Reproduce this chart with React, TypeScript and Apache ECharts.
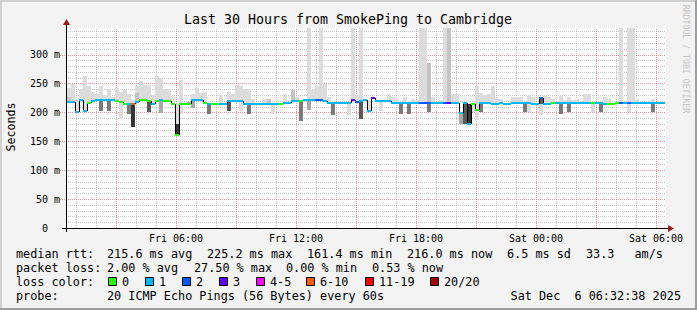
import React, { useEffect, useRef } from 'react';
import * as echarts from 'echarts';

const TITLE = 'Last 30 Hours from SmokePing to Cambridge';
const Y_NAME = 'Seconds';
const SIDE_TEXT = 'RRDTOOL / TOBI OETIKER';
const FONT = '"DejaVu Sans Mono", monospace';

// x axis: hours since Fri 00:00
const X_MIN = 0.5;
const X_MAX = 30.5;
const Y_MIN = 0;
const Y_MAX = 346;

const X_LABEL_HOURS = [6, 12, 18, 24, 30];
const X_LABELS = ['Fri 06:00', 'Fri 12:00', 'Fri 18:00', 'Sat 00:00', 'Sat 06:00'];
const X_MAJOR_HOURS = [3, 6, 9, 12, 15, 18, 21, 24, 27, 30];
const X_MINOR_HOURS = [1, 2, 4, 5, 7, 8, 10, 11, 13, 14, 16, 17, 19, 20, 22, 23, 25, 26, 28, 29];
const Y_MAJOR = [50, 100, 150, 200, 250, 300];
const Y_MINOR = [10, 20, 30, 40, 60, 70, 80, 90, 110, 120, 130, 140, 160, 170, 180, 190, 210, 220, 230, 240, 260, 270, 280, 290, 310, 320, 330, 340];

const LOSS_LABELS = ['0', '1', '2', '3', '4-5', '6-10', '11-19', '20/20'];
const LOSS_COLORS = ['#26ff00', '#00b8ff', '#0059ff', '#5e00ff', '#ff00ff', '#ff5e00', '#ff0000', '#a10000'];
const SMOKE_SHADES = ['#dcdcdc', '#c4c4c4', '#a8a8a8', '#7a7a7a', '#5a5a5a', '#353535'];

// [start hour, end hour, median ms, loss class]
const MEDIAN: number[][] = [
  [0.54, 0.94, 218.5, 1], [0.94, 1.14, 201, 1], [1.14, 1.34, 222, 1], [1.34, 1.54, 203, 1],
  [1.54, 1.74, 217, 0], [1.74, 1.94, 220, 1], [1.94, 2.94, 221.5, 1], [2.94, 3.14, 220.5, 0],
  [3.14, 3.34, 218.5, 0], [3.34, 3.54, 214.6, 0], [3.54, 3.74, 214.6, 1], [3.74, 3.94, 214.6, 5],
  [3.94, 4.14, 218, 1], [4.14, 4.54, 221.5, 0], [4.54, 4.74, 219, 0], [4.74, 4.94, 215, 1],
  [4.94, 5.14, 219.7, 0], [5.14, 5.34, 221.5, 1], [5.34, 5.74, 219.7, 0], [5.74, 5.94, 215, 0],
  [5.94, 6.14, 161.4, 0], [6.14, 6.74, 215, 0], [6.74, 7.34, 221, 1], [7.34, 7.54, 217, 0],
  [7.54, 7.74, 215, 1], [7.74, 8.14, 215, 0], [8.14, 8.54, 215, 1], [8.54, 9.34, 220.3, 1],
  [9.34, 11.14, 215, 1], [11.14, 11.34, 215, 0], [11.34, 11.74, 215.5, 1], [11.74, 12.14, 220.3, 1],
  [12.14, 12.34, 220.3, 0], [12.34, 12.94, 221, 1], [12.94, 13.34, 222, 2], [13.34, 13.54, 219.5, 1],
  [13.54, 13.74, 217, 1], [13.74, 14.54, 215.5, 1], [14.54, 14.74, 217, 1], [14.74, 14.94, 221.5, 3],
  [14.94, 15.14, 217.5, 2], [15.14, 15.34, 219, 1], [15.34, 15.54, 221, 1], [15.54, 15.74, 203, 1],
  [15.74, 15.94, 224.5, 3], [15.94, 16.74, 220.3, 1], [16.74, 16.94, 215.5, 1], [16.94, 17.54, 217, 1],
  [17.54, 18.14, 215.5, 1], [18.14, 18.74, 217, 2], [18.74, 19.34, 215.5, 1], [19.34, 19.54, 215.5, 2],
  [19.54, 19.74, 215.5, 3], [19.74, 20.14, 215.5, 1], [20.14, 20.34, 199.6, 1], [20.34, 20.54, 217, 1],
  [20.54, 20.74, 180, 1], [20.74, 20.94, 214, 0], [20.94, 21.14, 204, 0], [21.14, 21.74, 217, 1],
  [21.74, 22.14, 215, 1], [22.14, 22.34, 217, 1], [22.34, 22.74, 215, 1], [22.74, 23.74, 217, 1],
  [23.74, 24.14, 215, 1], [24.14, 24.34, 225, 2], [24.34, 24.74, 215, 1], [24.74, 24.94, 217, 0],
  [24.94, 26.74, 217, 1], [26.74, 26.94, 217, 0], [26.94, 27.34, 217, 1], [27.34, 27.54, 215, 1],
  [27.54, 27.94, 215, 0], [27.94, 28.14, 217, 0], [28.14, 28.34, 217, 2], [28.34, 28.54, 217, 1],
  [28.54, 28.74, 217, 2], [28.74, 30.44, 216.5, 1],
];

// [start hour, end hour, low ms, high ms, shade]
const SMOKE: number[][] = [
  [0.54, 0.74, 218, 242, 0], [0.54, 0.74, 218, 227, 1], [0.74, 0.94, 218, 249, 0], [0.94, 1.14, 201, 221, 0],
  [1.14, 1.34, 222, 240, 0], [1.34, 1.54, 203, 263, 0], [1.54, 1.74, 217, 246, 0], [1.74, 1.94, 220, 236, 0],
  [1.94, 2.14, 221, 232, 0], [2.14, 2.34, 221, 246, 0], [2.14, 2.34, 203, 221, 3], [2.34, 2.54, 221, 230, 0],
  [2.54, 2.74, 221, 240, 0], [2.54, 2.74, 203, 221, 3], [2.74, 2.94, 221, 227, 0], [2.94, 3.14, 220, 242, 0],
  [3.14, 3.34, 189, 236, 0], [3.34, 3.54, 214, 238, 0], [3.54, 3.74, 214, 232, 0], [3.54, 3.74, 197, 214, 3],
  [3.74, 3.94, 214, 221, 0], [3.74, 3.94, 174, 214, 5], [3.94, 4.14, 218, 245, 0], [3.94, 4.14, 218, 233, 1],
  [4.14, 4.34, 221, 255, 0], [4.34, 4.54, 221, 248, 0], [4.54, 4.74, 219, 248, 0], [4.54, 4.74, 201, 219, 4],
  [4.74, 4.94, 215, 230, 0], [4.94, 5.14, 219, 263, 0], [5.14, 5.34, 221, 259, 0], [5.14, 5.34, 199, 221, 2],
  [5.34, 5.54, 219, 241, 0], [5.54, 5.74, 219, 241, 0], [5.74, 5.94, 215, 226, 0], [5.94, 6.14, 180, 215, 0],
  [5.94, 6.14, 161, 180, 5], [6.14, 6.34, 198, 256, 0], [6.54, 6.74, 212, 218, 2], [6.74, 6.94, 220, 232, 0],
  [6.74, 6.94, 208, 220, 2], [6.94, 7.14, 220, 242, 0], [7.14, 7.34, 220, 234, 0], [7.34, 7.54, 217, 236, 0],
  [7.54, 7.74, 197, 215, 3], [8.14, 8.34, 215, 230, 0], [8.54, 8.74, 220, 236, 0], [8.54, 8.74, 203, 220, 4],
  [8.74, 8.94, 220, 232, 0], [8.94, 9.14, 220, 247, 0], [9.14, 9.34, 203, 246, 0], [9.34, 9.54, 215, 240, 0],
  [9.54, 9.74, 215, 240, 0], [9.54, 9.74, 197, 215, 3], [9.74, 9.94, 215, 224, 0], [10.34, 10.54, 215, 223, 0],
  [10.54, 10.74, 215, 224, 1], [10.74, 10.94, 198, 215, 0], [11.34, 11.54, 215, 232, 0], [11.74, 11.94, 220, 238, 1],
  [11.94, 12.14, 220, 226, 0], [12.14, 12.34, 185, 218, 3], [12.54, 12.74, 221, 346, 0], [12.54, 12.74, 204, 221, 2],
  [12.74, 12.94, 221, 239, 0], [12.94, 13.14, 222, 245, 0], [13.14, 13.34, 222, 346, 0], [13.34, 13.54, 219, 249, 0],
  [13.54, 13.74, 217, 226, 0], [13.74, 13.94, 196, 216, 3], [14.54, 14.74, 196, 217, 0], [14.74, 14.94, 221, 346, 0],
  [14.94, 15.14, 218, 230, 0], [15.14, 15.34, 219, 346, 0], [15.14, 15.34, 189, 219, 4], [15.34, 15.54, 221, 224, 0],
  [15.54, 15.74, 203, 221, 0], [16.14, 16.34, 203, 221, 0], [16.54, 16.74, 220, 232, 0], [16.74, 16.94, 216, 226, 0],
  [16.94, 17.14, 216, 224, 0], [17.14, 17.34, 197, 216, 3], [17.34, 17.54, 217, 226, 0], [17.54, 17.74, 197, 216, 3],
  [17.74, 17.94, 216, 224, 0], [17.94, 18.14, 216, 222, 0], [18.14, 18.34, 216, 346, 0], [18.34, 18.54, 216, 346, 0],
  [18.54, 18.74, 216, 285, 1], [18.54, 18.74, 200, 216, 3], [18.74, 18.94, 216, 227, 0], [19.14, 19.34, 215, 221, 0],
  [19.34, 19.54, 215, 346, 0], [19.54, 19.74, 215, 346, 1], [19.74, 19.94, 215, 232, 0], [19.94, 20.14, 215, 232, 0],
  [20.14, 20.34, 180, 200, 2], [20.34, 20.54, 180, 217, 4], [20.54, 20.74, 180, 215, 5], [20.74, 20.94, 201, 212, 0],
  [20.94, 21.14, 186, 246, 0], [21.14, 21.34, 217, 234, 0], [21.14, 21.34, 200, 217, 3], [21.34, 21.54, 216, 230, 0],
  [21.54, 21.74, 216, 232, 0], [21.74, 21.94, 216, 245, 0], [21.94, 22.14, 216, 224, 0], [22.14, 22.34, 216, 223, 0],
  [22.74, 22.94, 215, 226, 0], [22.94, 23.14, 215, 226, 0], [23.14, 23.34, 215, 227, 0], [23.34, 23.54, 200, 215, 3],
  [23.54, 23.74, 200, 228, 0], [23.74, 23.94, 215, 227, 0], [24.14, 24.34, 196, 215, 0], [24.14, 24.34, 215, 225, 4],
  [24.34, 24.54, 215, 228, 0], [24.54, 24.74, 215, 226, 0], [24.74, 24.94, 217, 223, 0], [25.14, 25.34, 217, 228, 0],
  [25.14, 25.34, 197, 215, 3], [25.34, 25.54, 217, 222, 0], [25.54, 25.74, 217, 226, 0], [25.54, 25.74, 200, 215, 3],
  [25.74, 25.94, 217, 222, 0], [25.94, 26.14, 217, 224, 0], [26.34, 26.54, 217, 232, 0], [26.54, 26.74, 217, 232, 0],
  [26.74, 26.94, 200, 215, 0], [27.14, 27.34, 200, 215, 3], [27.34, 27.54, 217, 226, 0], [27.54, 27.74, 215, 223, 0],
  [28.14, 28.34, 217, 346, 0], [28.54, 28.74, 217, 346, 0], [28.54, 28.74, 200, 215, 0], [28.74, 28.94, 217, 346, 0],
  [28.94, 29.14, 217, 223, 0], [29.74, 29.94, 217, 224, 0], [29.74, 29.94, 200, 215, 3],
];

const LEGEND_RTT: [string, number][] = [
  ['median rtt:', 16], ['215.6 ms avg', 107], ['225.2 ms max', 207], ['161.4 ms min', 307],
  ['216.0 ms now', 407], ['6.5 ms sd', 507], ['33.3', 586], ['am/s', 634.5],
];
const LEGEND_LOSS: [string, number][] = [
  ['packet loss:', 16], ['2.00 % avg', 107], ['27.50 % max', 194], ['0.00 % min', 286], ['0.53 % now', 372],
];
const LEGEND_BOX_X = [108, 145, 182, 219, 256, 306, 365, 430];
const PROBE_TEXT: [string, number][] = [['probe:', 16], ['20 ICMP Echo Pings (56 Bytes) every 60s', 107]];
const DATE_TEXT = 'Sat Dec \u00a06 06:32:38 2025';

export default function App() {
  const ref = useRef<HTMLDivElement>(null);

  useEffect(() => {
    document.body.style.margin = '0';
    if (!ref.current) return;
    const chart = echarts.init(ref.current, null, { renderer: 'svg' });

    const gridData: number[][] = [
      ...X_MINOR_HOURS.map((h) => [h, 0, 0, 0]),
      ...X_MAJOR_HOURS.map((h) => [h, 0, 0, 1]),
      ...Y_MINOR.map((v) => [X_MIN, v, 1, 0]),
      ...Y_MAJOR.map((v) => [X_MIN, v, 1, 1]),
    ];

    const txt = (text: string, x: number, y: number, size: number, extra: any = {}) => ({
      type: 'text',
      x,
      y,
      silent: true,
      z: 10,
      ...extra,
      style: {
        text,
        fontFamily: FONT,
        fontSize: size,
        fill: '#000',
        align: 'left',
        verticalAlign: 'middle',
        ...(extra.style || {}),
      },
    });

    const LEG = 11.8;
    const graphics: any[] = [
      { type: 'rect', shape: { x: 0, y: 0, width: 697, height: 2 }, style: { fill: '#d0d0d0' }, silent: true },
      { type: 'rect', shape: { x: 0, y: 0, width: 2, height: 310 }, style: { fill: '#d0d0d0' }, silent: true },
      { type: 'rect', shape: { x: 0, y: 308, width: 697, height: 2 }, style: { fill: '#9e9e9e' }, silent: true },
      { type: 'rect', shape: { x: 695, y: 0, width: 2, height: 310 }, style: { fill: '#9e9e9e' }, silent: true },
      txt(TITLE, 348, 19, 13.3, { style: { align: 'center' } }),
      txt(Y_NAME, 10.5, 127, 11.6, { rotation: Math.PI / 2, style: { align: 'center' } }),
      txt(SIDE_TEXT, 686, 59, 8.2, { rotation: -Math.PI / 2, style: { align: 'center', fill: '#c4c4c4' } }),
      // axis lines and arrows
      { type: 'line', z: 9, silent: true, shape: { x1: 62, y1: 228.5, x2: 669, y2: 228.5 }, style: { stroke: '#000', lineWidth: 1 } },
      { type: 'line', z: 9, silent: true, shape: { x1: 66.5, y1: 232, x2: 66.5, y2: 24 }, style: { stroke: '#000', lineWidth: 1 } },
      { type: 'polygon', z: 9, silent: true, shape: { points: [[668, 225], [674, 228.5], [668, 232]] }, style: { fill: '#9b1b1b' } },
      { type: 'polygon', z: 9, silent: true, shape: { points: [[63, 25], [66.5, 19], [70, 25]] }, style: { fill: '#9b1b1b' } },
    ];
    LEGEND_RTT.forEach(([t, x]) => graphics.push(txt(t, x, 254.3, LEG)));
    LEGEND_LOSS.forEach(([t, x]) => graphics.push(txt(t, x, 267.7, LEG)));
    graphics.push(txt('loss color:', 16, 281.7, LEG));
    LEGEND_BOX_X.forEach((bx, i) => {
      graphics.push({
        type: 'rect', z: 10, silent: true,
        shape: { x: bx + 0.5, y: 277.5, width: 8, height: 8 },
        style: { fill: LOSS_COLORS[i], stroke: '#000', lineWidth: 1 },
      });
      graphics.push(txt(LOSS_LABELS[i], bx + 14, 281.7, LEG));
    });
    PROBE_TEXT.forEach(([t, x]) => graphics.push(txt(t, x, 295.7, LEG)));
    graphics.push(txt(DATE_TEXT, 681, 295.7, LEG, { style: { align: 'right' } }));

    const option: any = {
      animation: false,
      backgroundColor: '#f3f3f3',
      grid: { left: 66, top: 28, width: 600, height: 200, show: true, backgroundColor: '#ffffff', borderWidth: 0 },
      xAxis: {
        type: 'value',
        min: X_MIN,
        max: X_MAX,
        axisLine: { show: false },
        axisTick: { show: false },
        splitLine: { show: false },
        axisLabel: {
          customValues: X_LABEL_HOURS,
          formatter: (v: number) => {
            const i = X_LABEL_HOURS.indexOf(v);
            return i < 0 ? '' : X_LABELS[i];
          },
          fontFamily: FONT,
          fontSize: 10,
          color: '#000',
          margin: 5,
        },
      },
      yAxis: {
        type: 'value',
        min: Y_MIN,
        max: Y_MAX,
        interval: 50,
        axisLine: { show: false },
        axisTick: { show: false },
        splitLine: { show: false },
        axisLabel: {
          formatter: (v: number) => (v % 50 === 0 ? (v === 0 ? '0\u00a0\u00a0' : v + ' m') : ''),
          fontFamily: FONT,
          fontSize: 10,
          color: '#000',
          margin: 6,
        },
      },
      series: [
        {
          type: 'custom',
          name: 'grid',
          silent: true,
          z: 1,
          data: gridData,
          encode: { x: 0, y: 1 },
          renderItem: (params: any, api: any) => {
            const kind = api.value(2);
            const major = api.value(3) === 1;
            const stroke = major ? 'rgba(235,60,60,0.55)' : 'rgba(160,160,160,0.6)';
            if (kind === 0) {
              const b = api.coord([api.value(0), Y_MIN]);
              const t = api.coord([api.value(0), Y_MAX]);
              const x = Math.round(b[0]) + 0.5;
              return { type: 'line', shape: { x1: x, y1: b[1], x2: x, y2: t[1] }, style: { stroke, lineWidth: 1, lineDash: [1, 1] } };
            }
            const l = api.coord([X_MIN, api.value(1)]);
            const r = api.coord([X_MAX, api.value(1)]);
            const y = Math.round(l[1]) + 0.5;
            return { type: 'line', shape: { x1: major ? l[0] - 6 : l[0], y1: y, x2: r[0], y2: y }, style: { stroke, lineWidth: 1, lineDash: [1, 1] } };
          },
        },
        {
          type: 'custom',
          name: 'smoke',
          silent: true,
          z: 2,
          data: SMOKE,
          encode: { x: [0, 1], y: [2, 3] },
          renderItem: (params: any, api: any) => {
            const d = SMOKE[params.dataIndex];
            const x0 = Math.round(api.coord([d[0], d[2]])[0]);
            const x1 = Math.round(api.coord([d[1], d[2]])[0]);
            const yB = Math.round(api.coord([d[0], d[2]])[1]);
            const yT = Math.round(api.coord([d[0], d[3]])[1]);
            return { type: 'rect', shape: { x: x0, y: yT, width: x1 - x0, height: yB - yT }, style: { fill: SMOKE_SHADES[d[4]] } };
          },
        },
        {
          type: 'custom',
          name: 'median',
          silent: true,
          z: 3,
          data: MEDIAN,
          encode: { x: [0, 1], y: 2 },
          renderItem: (params: any, api: any) => {
            const i = params.dataIndex;
            const d = MEDIAN[i];
            const x0 = Math.round(api.coord([d[0], d[2]])[0]);
            const x1 = Math.round(api.coord([d[1], d[2]])[0]);
            const y = Math.round(api.coord([d[0], d[2]])[1]);
            const children: any[] = [];
            if (i > 0) {
              const pv = MEDIAN[i - 1][2];
              if (pv !== d[2]) {
                const py = Math.round(api.coord([d[0], pv])[1]);
                children.push({ type: 'line', shape: { x1: x0 + 0.5, y1: py, x2: x0 + 0.5, y2: y }, style: { stroke: '#000', lineWidth: 1 } });
              }
            }
            children.push({ type: 'rect', shape: { x: x0, y: y - 1, width: x1 - x0, height: 2 }, style: { fill: LOSS_COLORS[d[3]] } });
            return { type: 'group', children };
          },
        },
      ],
      graphic: graphics,
    };

    chart.setOption(option);
    return () => chart.dispose();
  }, []);

  return <div ref={ref} style={{ width: 697, height: 310 }} />;
}
